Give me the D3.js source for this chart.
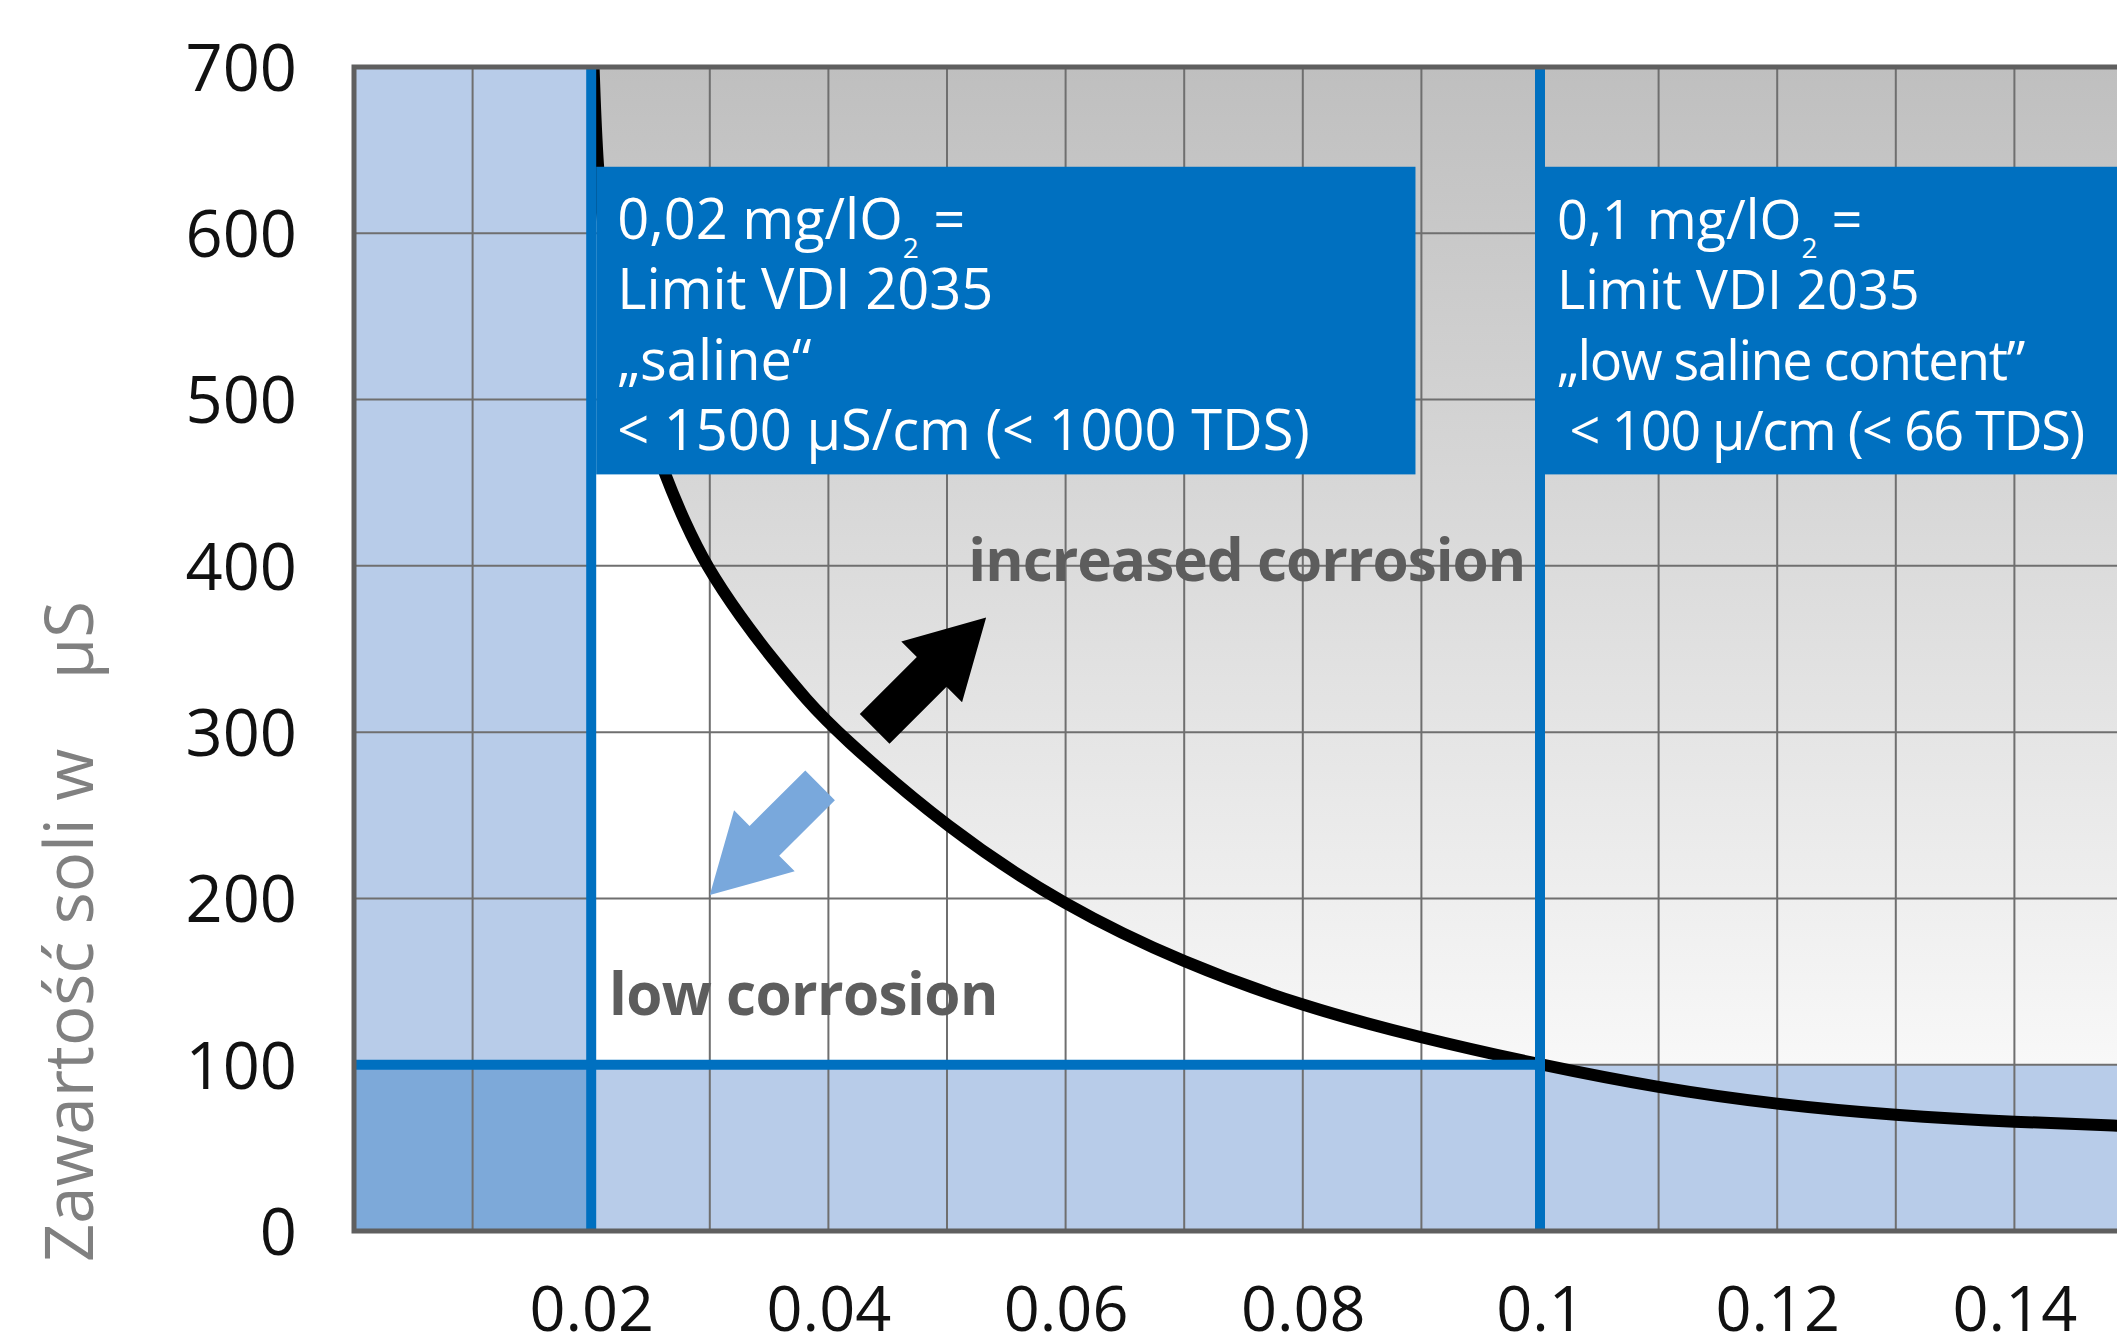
<!DOCTYPE html>
<html>
<head>
<meta charset="utf-8">
<script src="https://cdn.jsdelivr.net/npm/d3@7"></script>
<style>
  html, body { margin: 0; padding: 0; background: #ffffff; }
  svg { display: block; }
</style>
</head>
<body>
<svg id="chart" width="2117" height="1340"></svg>
<script>
// ---- data ----
const xTicks = [0.02, 0.04, 0.06, 0.08, 0.1, 0.12, 0.14];
const xTickLabels = ["0.02", "0.04", "0.06", "0.08", "0.1", "0.12", "0.14"];
const yTicks = [0, 100, 200, 300, 400, 500, 600, 700];
const yTickLabels = ["0", "100", "200", "300", "400", "500", "600", "700"];
const gridX = [0.01, 0.02, 0.03, 0.04, 0.05, 0.06, 0.07, 0.08, 0.09, 0.1, 0.11, 0.12, 0.13, 0.14];
const gridY = [100, 200, 300, 400, 500, 600];

// limit curve (O2 mg/l vs salt content µS)
const curveX = [0.0202, 0.0205, 0.0212, 0.0225, 0.0242, 0.0262, 0.0279, 0.0297, 0.0326, 0.0354, 0.0382, 0.0407, 0.050, 0.060, 0.070, 0.080, 0.090, 0.100, 0.110, 0.120, 0.130, 0.140, 0.150];
const curveY = [700, 640, 590, 540, 495, 455, 426, 400, 369, 343, 319, 300, 242, 195, 161, 135, 116, 100, 86, 76, 69.5, 65.5, 63];

// limits
const limitO2 = [0.02, 0.1];
const limitSalt = 100;

// info boxes in data units
const boxX0 = [0.02, 0.1];
const boxX1 = [0.0895, 0.16];
const boxYTop = [640, 640];
const boxYBottom = [455, 455];
const boxLine1 = ["0,02 mg/lO", "0,1 mg/lO"];
const boxLine2 = ["Limit VDI 2035", "Limit VDI 2035"];
const boxLine3 = ["\u201Esaline\u201C", "\u201Elow saline content\u201D"];
const boxLine4 = ["< 1500 \u00B5S/cm (< 1000 TDS)", "\u00A0< 100 \u00B5/cm (< 66 TDS)"];

// arrows: tail -> tip in data units
const arrowTailX = [0.0439, 0.0393];
const arrowTailY = [302, 268];
const arrowTipX = [0.0533, 0.0300];
const arrowTipY = [369, 202];
const arrowColor = ["#000000", "#79a8dc"];

const zoneLabels = ["increased corrosion", "low corrosion"];
const zoneLabelX = [0.0518, 0.0215];
const zoneLabelY = [391, 130];

const yTitle = "Zawarto\u015B\u0107 soli w\u00A0\u00A0\u00A0\u00A0\u00B5S";

// ---- layout ----
const svg = d3.select("#chart");
const mLeft = 354, mTop = 67, mBottom = 1231;
const x = d3.scaleLinear().domain([0, 0.15]).range([mLeft, mLeft + 7.5 * 237.2]);
const y = d3.scaleLinear().domain([0, 700]).range([mBottom, mTop]);
const font = "'Open Sans', 'Noto Sans', sans-serif";
const curveFactory = d3.curveBasis;

const defs = svg.append("defs");
const grad = defs.append("linearGradient").attr("id", "grayGrad")
  .attr("gradientUnits", "userSpaceOnUse")
  .attr("x1", 0).attr("x2", 0).attr("y1", y(700)).attr("y2", y(100));
grad.append("stop").attr("offset", "0%").attr("stop-color", "#bfbfbf");
grad.append("stop").attr("offset", "100%").attr("stop-color", "#f8f8f8");

const plot = svg.append("g");
const x0 = x(0), xEnd = x(0.15);

// background gradient (above limit zone)
plot.append("rect").attr("x", x(0.02)).attr("y", y(700))
  .attr("width", xEnd - x(0.02)).attr("height", y(100) - y(700))
  .attr("fill", "url(#grayGrad)");

// white area below curve
const pts = curveX.map((d, i) => [d, curveY[i]]);
plot.append("path").datum(pts)
  .attr("d", d3.area().x(d => x(d[0])).y0(y(100)).y1(d => y(d[1])).curve(curveFactory))
  .attr("fill", "#ffffff");

// light blue zones
plot.append("rect").attr("x", x0).attr("y", y(700))
  .attr("width", x(0.02) - x0).attr("height", y(0) - y(700)).attr("fill", "#b8cce9");
plot.append("rect").attr("x", x0).attr("y", y(100))
  .attr("width", xEnd - x0).attr("height", y(0) - y(100)).attr("fill", "#b8cce9");
plot.append("rect").attr("x", x0).attr("y", y(100))
  .attr("width", x(0.02) - x0).attr("height", y(0) - y(100)).attr("fill", "#7da9d9");

// grid
plot.selectAll(".gx").data(gridX).join("line")
  .attr("x1", d => x(d)).attr("x2", d => x(d)).attr("y1", y(0)).attr("y2", y(700))
  .attr("stroke", "#6f6f6f").attr("stroke-width", 2);
plot.selectAll(".gy").data(gridY).join("line")
  .attr("x1", x0).attr("x2", xEnd).attr("y1", d => y(d)).attr("y2", d => y(d))
  .attr("stroke", "#6f6f6f").attr("stroke-width", 2);

// curve
plot.append("path").datum(pts)
  .attr("d", d3.line().x(d => x(d[0])).y(d => y(d[1])).curve(curveFactory))
  .attr("fill", "none").attr("stroke", "#000").attr("stroke-width", 12);

// blue limit lines
plot.selectAll(".lv").data(limitO2).join("line")
  .attr("x1", d => x(d)).attr("x2", d => x(d)).attr("y1", y(0)).attr("y2", y(700))
  .attr("stroke", "#0070c0").attr("stroke-width", 10);
plot.append("line").attr("x1", x0).attr("x2", x(0.1)).attr("y1", y(limitSalt)).attr("y2", y(limitSalt))
  .attr("stroke", "#0070c0").attr("stroke-width", 10);

// boxes
const textOffset = [21, 12];
const boxFont = [56, 54];
const boxSpacing = [0, -1.5];
boxX0.forEach((bx, i) => {
  const bx0 = x(bx) + 5;
  plot.append("rect").attr("x", bx0).attr("y", y(boxYTop[i]))
    .attr("width", x(boxX1[i]) - bx0).attr("height", y(boxYBottom[i]) - y(boxYTop[i]))
    .attr("fill", "#0070c0");
  const tx = bx0 + textOffset[i];
  const t0 = y(boxYTop[i]);
  const g = plot.append("g").attr("fill", "#ffffff").attr("font-family", font).attr("font-size", boxFont[i]);
  const l1 = g.append("text").attr("x", tx).attr("y", t0 + 72);
  l1.append("tspan").text(boxLine1[i]);
  l1.append("tspan").attr("font-size", 28).attr("dy", 19).text("2");
  l1.append("tspan").attr("dy", -19).text(" =");
  g.append("text").attr("x", tx).attr("y", t0 + 142).text(boxLine2[i]);
  g.append("text").attr("x", tx).attr("y", t0 + 213).attr("letter-spacing", boxSpacing[i]).text(boxLine3[i]);
  g.append("text").attr("x", tx).attr("y", t0 + 283).attr("letter-spacing", boxSpacing[i]).text(boxLine4[i]);
});

// arrows
const shaftW = 42, headW = 86, headL = 77;
arrowTailX.forEach((ax, i) => {
  const p0 = [x(ax), y(arrowTailY[i])], p1 = [x(arrowTipX[i]), y(arrowTipY[i])];
  const dx = p1[0] - p0[0], dy = p1[1] - p0[1];
  const len = Math.hypot(dx, dy);
  const ux = dx / len, uy = dy / len, nx = -uy, ny = ux;
  const b = [p1[0] - ux * headL, p1[1] - uy * headL];
  const P = (p, s) => [p[0] + nx * s, p[1] + ny * s];
  const poly = [P(p0, shaftW / 2), P(b, shaftW / 2), P(b, headW / 2), p1, P(b, -headW / 2), P(b, -shaftW / 2), P(p0, -shaftW / 2)];
  plot.append("path").attr("d", "M" + poly.map(p => p.join(",")).join("L") + "Z").attr("fill", arrowColor[i]);
});

// zone labels
const zoneSpacing = [-1.0, -0.6];
zoneLabels.forEach((t, i) => {
  plot.append("text").attr("x", x(zoneLabelX[i])).attr("y", y(zoneLabelY[i]))
    .attr("font-family", font).attr("font-weight", 700).attr("font-size", 58.5)
    .attr("letter-spacing", zoneSpacing[i]).attr("fill", "#5d5d5d").text(t);
});

// border
plot.append("path")
  .attr("d", `M${xEnd},${y(700)}L${x0},${y(700)}L${x0},${y(0)}L${xEnd},${y(0)}`)
  .attr("fill", "none").attr("stroke", "#5f5f5f").attr("stroke-width", 5);

// axes
const yAxis = svg.append("g").attr("transform", `translate(${mLeft},0)`)
  .call(d3.axisLeft(y).tickValues(yTicks).tickSize(0).tickPadding(57)
    .tickFormat((d, i) => yTickLabels[i]));
yAxis.select(".domain").remove();
yAxis.selectAll("text").attr("font-family", font).attr("font-size", 65)
  .attr("fill", "#111").attr("dy", "0.36em");

const xAxis = svg.append("g").attr("transform", `translate(0,${mBottom})`)
  .call(d3.axisBottom(x).tickValues(xTicks).tickSize(0).tickPadding(55)
    .tickFormat((d, i) => xTickLabels[i]));
xAxis.select(".domain").remove();
xAxis.selectAll("text").attr("font-family", font).attr("font-size", 63).attr("fill", "#111");

// y title
svg.append("text").attr("transform", "translate(93,1262) rotate(-90)")
  .attr("font-family", font).attr("font-size", 67).attr("fill", "#808080")
  .attr("text-anchor", "start").text(yTitle);
</script>
</body>
</html>
